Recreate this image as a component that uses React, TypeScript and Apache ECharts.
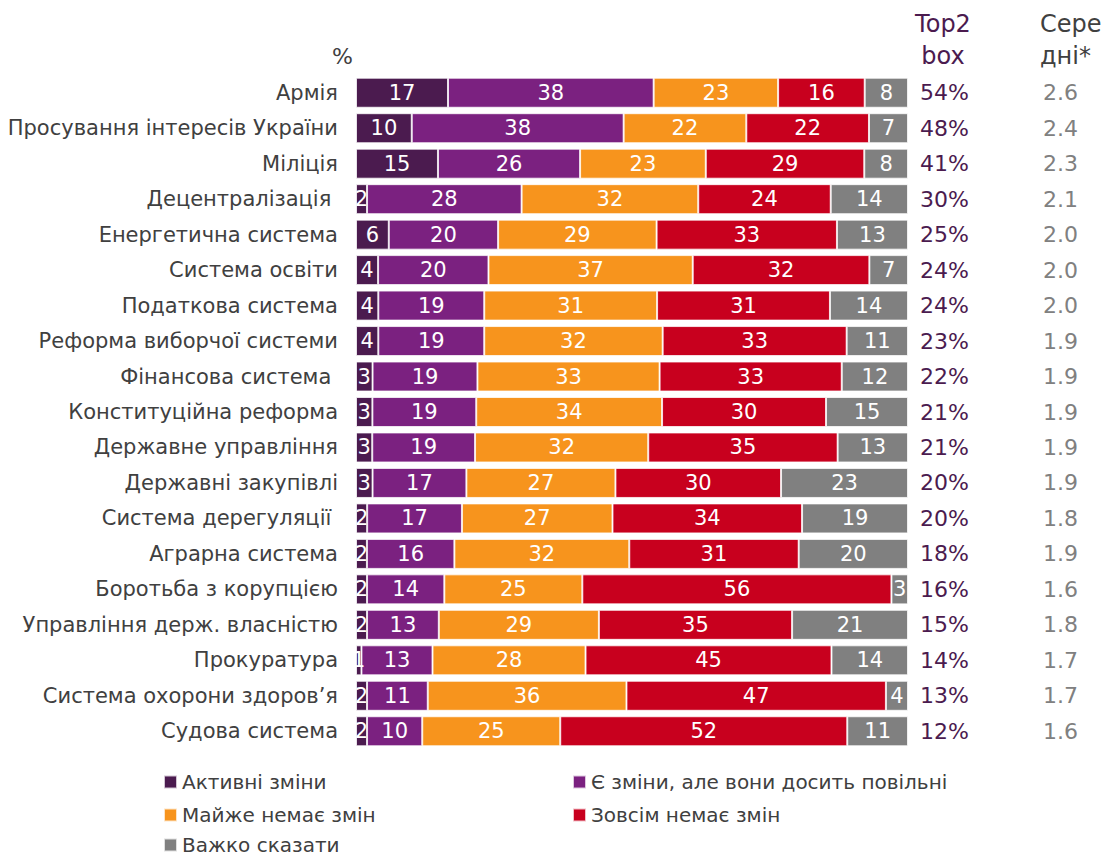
import React, { useEffect, useRef } from "react";
import * as echarts from "echarts";

const categories = [
  "Армія",
  "Просування інтересів України",
  "Міліція",
  "Децентралізація ",
  "Енергетична система",
  "Система освіти",
  "Податкова система",
  "Реформа виборчої системи",
  "Фінансова система ",
  "Конституційна реформа",
  "Державне управління",
  "Державні закупівлі",
  "Система дерегуляції ",
  "Аграрна система",
  "Боротьба з корупцією",
  "Управління держ. власністю",
  "Прокуратура",
  "Система охорони здоров’я",
  "Судова система",
];

const seriesNames = [
  "Активні зміни",
  "Є зміни, але вони досить повільні",
  "Майже немає змін",
  "Зовсім немає змін",
  "Важко сказати",
];

const active = [17, 10, 15, 2, 6, 4, 4, 4, 3, 3, 3, 3, 2, 2, 2, 2, 1, 2, 2];
const slow = [38, 38, 26, 28, 20, 20, 19, 19, 19, 19, 19, 17, 17, 16, 14, 13, 13, 11, 10];
const almostNone = [23, 22, 23, 32, 29, 37, 31, 32, 33, 34, 32, 27, 27, 32, 25, 29, 28, 36, 25];
const none = [16, 22, 29, 24, 33, 32, 31, 33, 33, 30, 35, 30, 34, 31, 56, 35, 45, 47, 52];
const hard = [8, 7, 8, 14, 13, 7, 14, 11, 12, 15, 13, 23, 19, 20, 3, 21, 14, 4, 11];

const top2 = ["54%", "48%", "41%", "30%", "25%", "24%", "24%", "23%", "22%", "21%", "21%", "20%", "20%", "18%", "16%", "15%", "14%", "13%", "12%"];
const averages = ["2.6", "2.4", "2.3", "2.1", "2.0", "2.0", "2.0", "1.9", "1.9", "1.9", "1.9", "1.9", "1.8", "1.9", "1.6", "1.8", "1.7", "1.7", "1.6"];

const colors = ["#4B1B4F", "#7B2180", "#F7941D", "#C8001E", "#808080"];

const FONT = "DejaVu Sans, Verdana, sans-serif";

export default function App() {
  const ref = useRef<HTMLDivElement>(null);

  useEffect(() => {
    document.body.style.margin = "0";
    const chart = echarts.init(ref.current!, null, { renderer: "svg" });
    const allSeries = [active, slow, almostNone, none, hard];
    const sums = categories.map((_, i) => allSeries.reduce((s, arr) => s + arr[i], 0));

    const series = allSeries.map((arr, si) => ({
      name: seriesNames[si],
      type: "bar",
      stack: "total",
      barWidth: 30,
      itemStyle: { color: colors[si], borderColor: "rgba(255,255,255,0.75)", borderWidth: 1 },
      label: {
        show: true,
        position: "inside",
        color: "#ffffff",
        fontFamily: FONT,
        fontSize: 21,
        formatter: (p: any) => String(p.data.raw),
      },
      data: arr.map((v, i) => ({ value: (v / sums[i]) * 100, raw: v })),
    }));

    const legendPos = [
      { left: 163, top: 772 },
      { left: 572, top: 772 },
      { left: 163, top: 805 },
      { left: 572, top: 805 },
      { left: 163, top: 835 },
    ];

    chart.setOption({
      animation: false,
      grid: { left: 356, width: 552, top: 75, height: 674 },
      xAxis: { type: "value", min: 0, max: 100, show: false },
      yAxis: [
        {
          type: "category",
          data: categories,
          inverse: true,
          axisLine: { show: false },
          axisTick: { show: false },
          axisLabel: { color: "#404040", fontFamily: FONT, fontSize: 21, margin: 18 },
        },
        {
          type: "category",
          data: top2,
          inverse: true,
          position: "right",
          axisLine: { show: false },
          axisTick: { show: false },
          axisLabel: { color: "#4B1B4F", fontFamily: FONT, fontSize: 22, margin: 12, align: "left" },
        },
        {
          type: "category",
          data: averages,
          inverse: true,
          position: "right",
          offset: 123,
          axisLine: { show: false },
          axisTick: { show: false },
          axisLabel: { color: "#808080", fontFamily: FONT, fontSize: 22, margin: 12, align: "left" },
        },
      ],
      legend: seriesNames.map((n, i) => ({
        data: [n],
        left: legendPos[i].left,
        top: legendPos[i].top,
        padding: 0,
        icon: "rect",
        itemWidth: 13,
        itemHeight: 13,
        itemGap: 4,
        selectedMode: false,
        textStyle: { color: "#404040", fontFamily: FONT, fontSize: 20, lineHeight: 20, padding: [0, 0, 0, 0] },
      })),
      graphic: [
        { type: "text", left: 332, top: 45, style: { text: "%", font: `22px ${FONT}`, fill: "#404040" } },
        {
          type: "text",
          x: 943,
          y: 8,
          style: { text: "Top2\nbox", font: `24px ${FONT}`, fill: "#4B1B4F", align: "center", lineHeight: 32 },
        },
        {
          type: "text",
          x: 1040,
          y: 8,
          style: { text: "Сере\nдні*", font: `24px ${FONT}`, fill: "#404040", align: "left", lineHeight: 32 },
        },
      ],
      series,
    });
    return () => chart.dispose();
  }, []);

  return <div ref={ref} style={{ width: 1111, height: 856 }} />;
}
